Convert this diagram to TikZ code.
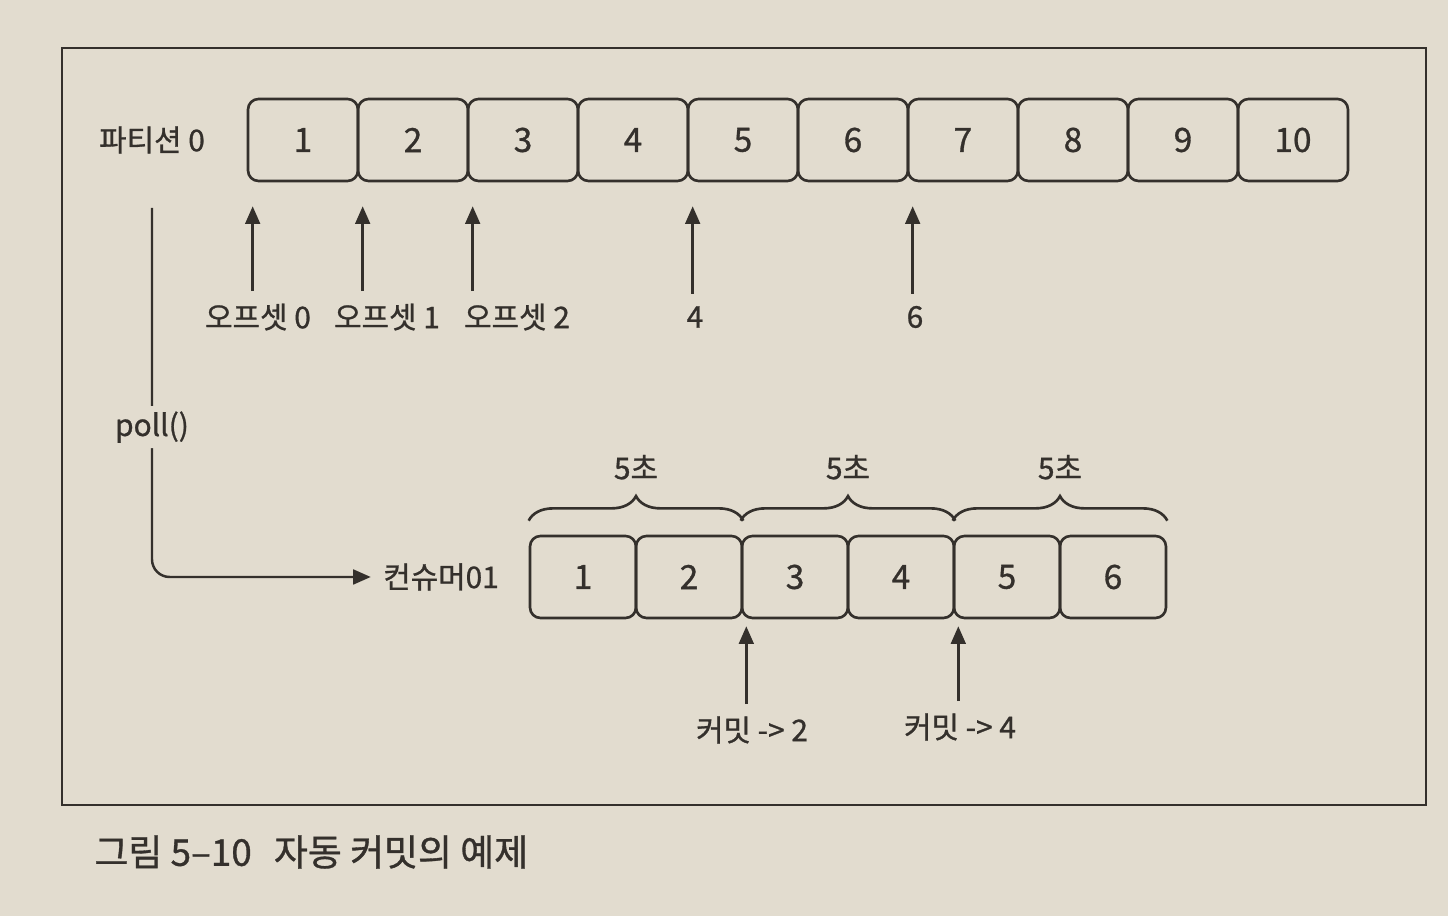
\documentclass[tikz,border=0pt]{standalone}
\usepackage{fontspec}
\setmainfont{Noto Sans CJK KR}[FakeBold=0.9]
\usetikzlibrary{arrows.meta, positioning, decorations.pathreplacing}
\definecolor{paper}{RGB}{226,220,207}
\definecolor{ink}{RGB}{52,48,44}

\begin{document}
\begin{tikzpicture}[font=\fontsize{8.5}{10}\selectfont, >={Triangle[length=5pt,width=4.2pt]}, color=ink,
     cell/.style={draw=ink,rounded corners=3pt,minimum width=1.10cm,minimum height=0.82cm,inner sep=0pt,line width=0.75pt,
                  font=\fontsize{9.5}{11}\selectfont},
     ccell/.style={cell,minimum width=1.06cm},
     link/.style={draw=ink,line width=0.7pt},
     brc/.style={draw=ink,line width=0.75pt,decorate,decoration={brace,amplitude=7pt}}]
    \useasboundingbox (0,0) rectangle (14.48,-9.16);
    \fill[paper] (0,0) rectangle (14.48,-9.16);
    \draw[ink,line width=0.6pt] (0.62,-0.48) rectangle (14.26,-8.05);
    % partition 0
    \node (part) at (1.52,-1.40) {파티션 0};
    \node[cell] (p1) at (3.03,-1.40) {1};
    \node[cell] (p2) at (4.13,-1.40) {2};
    \node[cell] (p3) at (5.23,-1.40) {3};
    \node[cell] (p4) at (6.33,-1.40) {4};
    \node[cell] (p5) at (7.43,-1.40) {5};
    \node[cell] (p6) at (8.53,-1.40) {6};
    \node[cell] (p7) at (9.63,-1.40) {7};
    \node[cell] (p8) at (10.73,-1.40) {8};
    \node[cell] (p9) at (11.83,-1.40) {9};
    \node[cell] (p10) at (12.93,-1.40) {10};
    \node (o0) at (2.58,-3.17) {오프셋 0};
    \node (o1) at (3.87,-3.17) {오프셋 1};
    \node (o2) at (5.17,-3.17) {오프셋 2};
    \node (o4) at (6.95,-3.17) {4};
    \node (o6) at (9.15,-3.17) {6};
    \draw[link,->] ([xshift=0.06cm]o0.north -| p1.south west) -- ([xshift=0.06cm,yshift=-0.24cm]p1.south west);
    \draw[link,->] ([xshift=0.06cm]o1.north -| p2.south west) -- ([xshift=0.06cm,yshift=-0.24cm]p2.south west);
    \draw[link,->] ([xshift=0.06cm]o2.north -| p3.south west) -- ([xshift=0.06cm,yshift=-0.24cm]p3.south west);
    \draw[link,->] ([xshift=0.06cm]o4.north -| p5.south west) -- ([xshift=0.06cm,yshift=-0.24cm]p5.south west);
    \draw[link,->] ([xshift=0.06cm]o6.north -| p7.south west) -- ([xshift=0.06cm,yshift=-0.24cm]p7.south west);
    % consumer 01
    \node (cons) at (4.41,-5.77) {컨슈머01};
    \draw[link,->,rounded corners=5pt] ([yshift=-0.42cm]part.south) |- node[pos=0.297,fill=paper,inner sep=1.5pt] (poll) {poll()} (cons.west);
    \node[ccell] (c1) at (5.83,-5.77) {1};
    \node[ccell] (c2) at (6.89,-5.77) {2};
    \node[ccell] (c3) at (7.95,-5.77) {3};
    \node[ccell] (c4) at (9.01,-5.77) {4};
    \node[ccell] (c5) at (10.07,-5.77) {5};
    \node[ccell] (c6) at (11.13,-5.77) {6};
    \draw[brc] ([yshift=0.14cm]c1.north west) -- node[above=8pt] (s1) {5초} ([yshift=0.14cm]c2.north east);
    \draw[brc] ([yshift=0.14cm]c3.north west) -- node[above=8pt] (s2) {5초} ([yshift=0.14cm]c4.north east);
    \draw[brc] ([yshift=0.14cm]c5.north west) -- node[above=8pt] (s3) {5초} ([yshift=0.14cm]c6.north east);
    \node (k2) at (7.52,-7.30) {커밋 -> 2};
    \node (k4) at (9.60,-7.27) {커밋 -> 4};
    \draw[link,->] ([xshift=0.03cm]k2.north -| c2.south east) -- ([xshift=0.03cm,yshift=-0.07cm]c2.south east);
    \draw[link,->] ([xshift=0.03cm]k4.north -| c4.south east) -- ([xshift=0.03cm,yshift=-0.07cm]c4.south east);
    \node[anchor=west,font=\fontsize{10.5}{12}\selectfont] (cap) at (0.82,-8.52) {그림 5–10\hspace{0.6em}자동 커밋의 예제};
  \end{tikzpicture}
\end{document}
